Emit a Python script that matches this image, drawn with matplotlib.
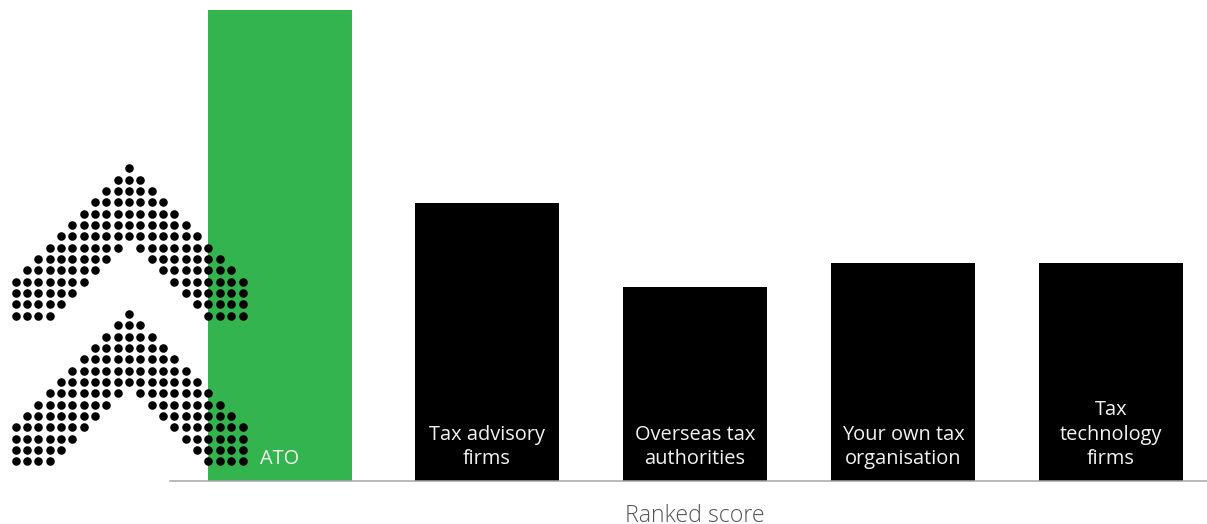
import matplotlib
matplotlib.use('Agg')
import matplotlib.pyplot as plt

plt.rcParams['font.family'] = ['Open Sans', 'DejaVu Sans']

W, H = 1207, 524

labels = ['ATO', 'Tax advisory\nfirms', 'Overseas tax\nauthorities',
          'Your own tax\norganisation', 'Tax\ntechnology\nfirms']
scores = [471, 278, 194, 218, 218]
bar_colors = ['#33b44f', '#000000', '#000000', '#000000', '#000000']

# first and last column of dots on each row of the chevron
chevron_rows = [
    [(10, 10)],
    [(9, 11)],
    [(8, 12)],
    [(7, 13)],
    [(6, 14)],
    [(5, 15)],
    [(4, 16)],
    [(3, 9), (11, 17)],
    [(2, 8), (12, 18)],
    [(1, 7), (13, 19)],
    [(0, 6), (14, 20)],
    [(0, 5), (15, 20)],
    [(0, 4), (16, 20)],
    [(0, 3), (17, 20)],
]
chevron_tops = [168.3, 314.0]


def chevron_points(top, left=15.7, step=11.34):
    xs, ys = [], []
    for r, spans in enumerate(chevron_rows):
        for a, b in spans:
            for c in range(a, b + 1):
                xs.append(left + c * step)
                ys.append(top + r * step)
    return xs, ys


fig = plt.figure(figsize=(W / 100, H / 100), dpi=100)

# bars, baseline at y=481 on the canvas
ax = fig.add_axes([0, (H - 481) / H, 1, 481 / H])
ax.set_xlim(0, W)
ax.set_ylim(0, 481)
x = [280, 487, 695, 903, 1111]
ax.bar(x, scores, width=144, color=bar_colors, zorder=1)
for xi, lab in zip(x, labels):
    ax.text(xi, 17, lab, color='#f2f2f2', fontsize=14.4, ha='center',
            va='baseline', linespacing=1.29, zorder=4)
ax.axis('off')

# full canvas overlay in pixel coordinates for the dots and the axis line
over = fig.add_axes([0, 0, 1, 1])
over.set_xlim(0, W)
over.set_ylim(H, 0)
over.axis('off')
over.patch.set_alpha(0)
for top in chevron_tops:
    px, py = chevron_points(top)
    over.scatter(px, py, s=38, color='black', linewidths=0, zorder=3)
over.plot([170, 1207], [481, 481], color='#a6a6a8', lw=1.1, zorder=2)
over.text(694.5, 522, 'Ranked score', color='#555555', fontsize=16.7,
          fontweight='light', ha='center', va='baseline')

fig.savefig('out.png', dpi=100)
